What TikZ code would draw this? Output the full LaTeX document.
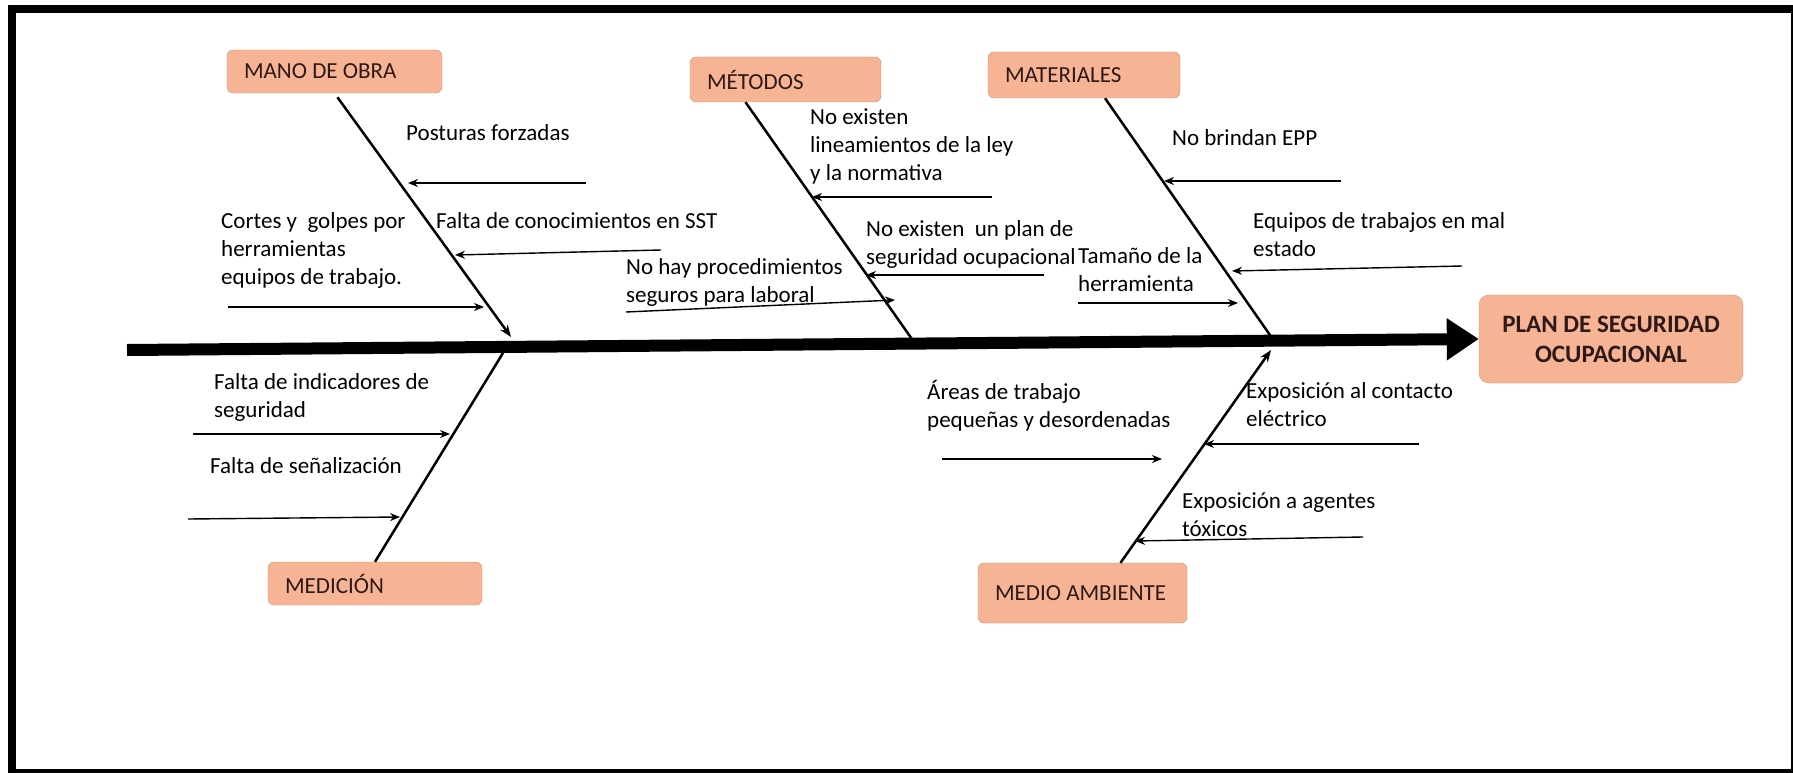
\documentclass[tikz,border=0pt]{standalone}
\usepackage{fontspec}
\setmainfont{Carlito}
\usetikzlibrary{arrows.meta}

\definecolor{catfill}{RGB}{246,180,148}
\definecolor{catline}{RGB}{212,144,112}
\definecolor{cattext}{RGB}{45,25,25}

\begin{document}
\begin{tikzpicture}[x=1pt, y=-1pt,
		cause/.style={draw=catline, fill=catfill, rounded corners=6pt, inner xsep=17pt, inner ysep=0pt, align=flush left, text=cattext, font=\fontsize{23}{28}\selectfont},
		effect/.style={draw=catline, fill=catfill, rounded corners=10pt, align=center, minimum width=264pt, minimum height=88pt, text=cattext, font=\fontsize{25}{30}\selectfont\bfseries},
		txt/.style={anchor=base west, inner sep=0pt, align=flush left, font=\fontsize{23}{28}\selectfont},
		bone/.style={line width=2.5pt},
		subarrow/.style={line width=1.4pt, -{Stealth[length=10pt, width=8pt]}}]
	\useasboundingbox (0,0) rectangle (1793,773);
	\clip (0,0) rectangle (1793,773);
	\draw[line width=8pt] (12,9) rectangle (1795,773);

	\node[cause, text width=181pt, minimum height=43pt] (mano) at (334.5,71.5) {MANO DE OBRA};
	\node[cause, text width=157pt, minimum height=45pt] (metodos) at (785.5,79.5) {MÉTODOS};
	\node[cause, text width=158pt, minimum height=46pt] (materiales) at (1084,75) {MATERIALES};
	\node[cause, text width=180pt, minimum height=43pt] (medicion) at (375,583.5) {MEDICIÓN};
	\node[cause, text width=175pt, minimum height=60pt] (medio) at (1082.5,593) {MEDIO AMBIENTE};
	\node[effect] (plan) at (1611,339) {PLAN DE SEGURIDAD\\OCUPACIONAL};

	\coordinate (tail) at (127,350);
	\draw[line width=12pt, -{Triangle[length=32pt, width=40pt]}] (tail) -- (plan.west);

	\coordinate (manoEnd) at (511,337);
	\coordinate (metodosEnd) at (914,342);
	\coordinate (materialesEnd) at (1272,338);
	\coordinate (medicionEnd) at (503,353);
	\coordinate (medioEnd) at (1271,350);
	\draw[bone, shorten <=5pt, -{Stealth[length=12pt, width=9pt]}] (mano.south) -- (manoEnd);
	\draw[bone] ([xshift=-40pt]metodos.south) -- (metodosEnd);
	\draw[bone] ([xshift=21pt]materiales.south) -- (materialesEnd);
	\draw[bone] (medicion.north) -- (medicionEnd);
	\draw[bone, -{Stealth[length=12pt, width=9pt]}] ([xshift=38pt]medio.north) -- (medioEnd);

	\foreach \name/\fx/\fy/\tx/\ty in {posturas/586/183/408/183, conocimientos/661/250/455/255,
		cortes/228/307/484/307, lineamientos/992/197/812/197, planocup/1044/275/866/275,
		procedimientos/626/312/895/300, epp/1341/181/1164/181, equipos/1462/266/1232/271,
		tamano/1078/303/1238/303, indicadores/193/434/450/434, senal/188/519/400/517,
		areas/942/459/1162/459, contacto/1419/444/1204/444, toxicos/1363/537/1135/541} {
		\coordinate (\name-from) at (\fx,\fy);
		\coordinate (\name-to) at (\tx,\ty);
		\draw[subarrow] (\name-from) -- (\name-to);
	}

	\node[txt] (tposturas) at (406,141) {Posturas forzadas};
	\node[txt] (tcortes) at (221,284) {Cortes y\ \ golpes por\\herramientas\\equipos de trabajo.};
	\node[txt] (tconocimientos) at (436,228) {Falta de conocimientos en SST};
	\node[txt] (tlineamientos) at (810,180) {No existen\\lineamientos de la ley\\y la normativa};
	\node[txt] (tplanocup) at (866,264) {No existen\ \ un plan de\\seguridad ocupacional};
	\node[txt] (tprocedimientos) at (626,302) {No hay procedimientos\\seguros para laboral};
	\node[txt] (tepp) at (1172,146) {No brindan EPP};
	\node[txt] (tequipos) at (1253,256) {Equipos de trabajos en mal\\estado};
	\node[txt] (ttamano) at (1078,291) {Tamaño de la\\herramienta};
	\node[txt] (tindicadores) at (214,417) {Falta de indicadores de\\seguridad};
	\node[txt] (tsenal) at (210,473) {Falta de señalización};
	\node[txt] (tareas) at (927,427) {Áreas de trabajo\\pequeñas y desordenadas};
	\node[txt] (tcontacto) at (1246,426) {Exposición al contacto\\eléctrico};
	\node[txt] (ttoxicos) at (1182,536) {Exposición a agentes\\tóxicos};
\end{tikzpicture}
\end{document}
